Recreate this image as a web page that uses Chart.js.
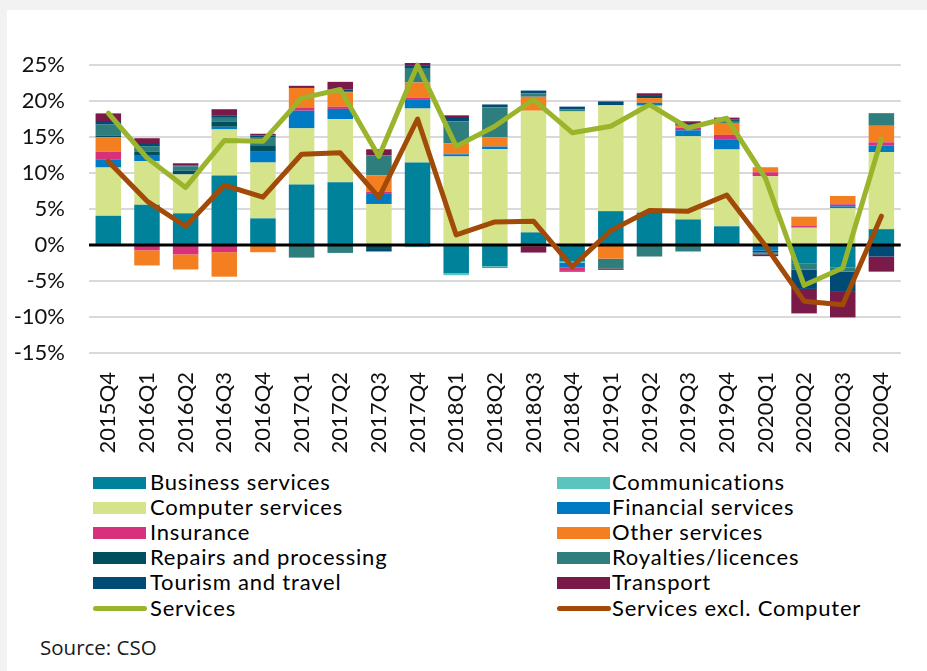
<!DOCTYPE html>
<html>
<head>
<meta charset="utf-8">
<script src="https://cdn.jsdelivr.net/npm/chart.js@4/dist/chart.umd.min.js"></script>
<style>
  html,body{margin:0;padding:0;background:#f2f2f2;width:927px;height:671px;overflow:hidden;}
  #panel{position:absolute;left:7px;top:10px;width:920px;height:661px;background:#fff;}
  #wrap{position:absolute;left:7px;top:10px;width:920px;height:453px;}
  .lg{position:absolute;font-family:Lato,"Noto Sans",sans-serif;font-size:22px;letter-spacing:0.8px;color:#000;line-height:25px;white-space:nowrap;}
  .sw{position:absolute;}
  #src{position:absolute;left:40px;top:637px;font-family:"Open Sans",sans-serif;font-size:20.5px;line-height:1;color:#1a1a1a;}
</style>
</head>
<body>
<div id="panel"></div>
<div id="wrap"><canvas id="c"></canvas></div>
<div id="legend"></div>
<div id="src">Source: CSO</div>
<script>
const categories = ["2015Q4","2016Q1","2016Q2","2016Q3","2016Q4","2017Q1","2017Q2","2017Q3","2017Q4","2018Q1","2018Q2","2018Q3","2018Q4","2019Q1","2019Q2","2019Q3","2019Q4","2020Q1","2020Q2","2020Q3","2020Q4"];

const business       = [4.06, 5.6, 4.4, 9.65, 3.7, 8.4, 8.7, 0, 11.45, -3.9, -2.95, 1.75, -2.3, 4.7, 4.5, 3.55, 2.6, -0.15, -2.6, -3.1, 2.2];
const communications = [0, 0, 0, 0, 0, 0, 0, 0, -0.3, -0.3, -0.15, 0, -0.15, 0, 0, 0, 0, 0.15, 0.2, 0, 0];
const computer       = [6.7, 6.05, 5.4, 6.4, 7.75, 7.8, 8.8, 5.7, 7.5, 12.3, 13.3, 16.9, 18.55, 14.7, 14.85, 11.55, 10.66, 9.4, 2.2, 5.1, 10.7];
const financial      = [1.15, 0.74, 0, 0.37, 1.5, 2.45, 1.4, 1.5, 1.3, 0.3, 0.37, -0.15, -0.7, 0, 0.4, 0.83, 1.43, -0.65, 0, 0.28, 0.9];
const insurance      = [1.06, -0.74, -1.3, -1.0, 0, 0.46, 0.3, 0.2, 0.23, 0.1, 0, -0.1, -0.45, 0, 0, 0.37, 0.6, 0.55, 0.23, 0.28, 0.46];
const otherServices  = [2.0, -2.1, -2.1, -3.4, -1.0, 2.7, 2.0, 2.26, 2.1, 1.43, 1.3, 1.94, 0, -1.9, 0.65, 0.28, 1.66, 0.7, 1.3, 1.15, 2.3];
const repairs        = [0.25, 0.6, 0.55, 0.74, 0.9, 0, 0.1, -0.55, 0, 0, 0, 0, 0, 0, 0.3, 0.2, 0, -0.2, 0, 0, 0];
const royalties      = [1.5, 0.74, 0.55, 0.5, 1.15, -1.75, -1.1, 2.8, 2.0, 3.05, 4.15, 0.46, 0.3, -1.35, -1.6, -0.9, 0.28, -0.2, -0.8, -0.6, 1.75];
const tourism        = [0.5, 0.3, 0.15, 0.37, 0.2, 0, 0.3, -0.35, 0.3, 0.6, 0.4, 0.4, 0.37, 0.55, 0, 0.17, 0.23, -0.1, -2.7, -2.7, -1.6];
const transport      = [1.06, 0.8, 0.3, 0.83, 0.25, 0.3, 1.06, 0.83, 0.4, 0.23, -0.1, -0.8, -0.1, -0.2, 0.37, 0.23, 0.23, -0.25, -3.4, -3.65, -2.1];
const services       = [18.3, 12.1, 8.0, 14.5, 14.4, 20.4, 21.6, 12.3, 25.0, 13.7, 16.5, 20.2, 15.6, 16.5, 19.5, 16.25, 17.6, 9.3, -5.6, -3.2, 14.7];
const servicesExclComputer = [11.6, 6.1, 2.6, 8.3, 6.65, 12.6, 12.8, 6.6, 17.5, 1.4, 3.2, 3.3, -3.0, 2.0, 4.8, 4.7, 6.95, -0.1, -7.8, -8.3, 4.0];

const yTicks = [-15, -10, -5, 0, 5, 10, 15, 20, 25];

const barSeries = [
  ["Business services", business, "#00829B"],
  ["Communications", communications, "#5BC4BF"],
  ["Computer services", computer, "#D5E38B"],
  ["Financial services", financial, "#007AC2"],
  ["Insurance", insurance, "#D6317A"],
  ["Other services", otherServices, "#F47F21"],
  ["Repairs and processing", repairs, "#004F5E"],
  ["Royalties/licences", royalties, "#2E7E7D"],
  ["Tourism and travel", tourism, "#004B75"],
  ["Transport", transport, "#7A1A48"]
];
const lineSeries = [
  ["Services", services, "#9AB52B", "s1"],
  ["Services excl. Computer", servicesExclComputer, "#A24A08", "s2"]
];

const datasets = barSeries.map(s => ({
  type: 'bar', label: s[0], data: s[1], backgroundColor: s[2],
  borderWidth: 0, order: 1, stack: 'bars', clip: false,
  barPercentage: 0.66, categoryPercentage: 1
}));
lineSeries.forEach(s => datasets.push({
  type: 'line', label: s[0], data: s[1], borderColor: s[2], backgroundColor: s[2],
  borderWidth: 5, pointRadius: 0, tension: 0, order: 0, stack: s[3], clip: false,
  borderCapStyle: 'round', borderJoinStyle: 'round'
}));

const zeroLine = {
  id: 'zeroLine',
  beforeDatasetDraw(chart, args) {
    if (args.index !== datasets.length - 1) return;
    const y = chart.scales.y.getPixelForValue(0);
    const ctx = chart.ctx;
    ctx.save();
    ctx.strokeStyle = '#000';
    ctx.lineWidth = 3;
    ctx.beginPath();
    ctx.moveTo(chart.chartArea.left, y);
    ctx.lineTo(chart.chartArea.right, y);
    ctx.stroke();
    ctx.restore();
  }
};

const font = {family: 'Lato, "Noto Sans", sans-serif', size: 22};

const chart = new Chart(document.getElementById('c'), {
  data: {labels: categories, datasets},
  plugins: [zeroLine],
  options: {
    responsive: true, maintainAspectRatio: false, animation: false,
    layout: {padding: {top: 55, right: 9, left: 0, bottom: 0}},
    plugins: {legend: {display: false}, tooltip: {enabled: false}},
    scales: {
      x: {
        stacked: true,
        grid: {display: false, drawTicks: false},
        border: {display: false},
        ticks: {font, color: '#111', maxRotation: 90, minRotation: 90, autoSkip: false, padding: 19},
        afterFit(s) { s.height = 110; }
      },
      y: {
        stacked: true, min: -15, max: 25,
        afterBuildTicks(s) { s.ticks = yTicks.map(v => ({value: v})); },
        grid: {color: c => c.tick && c.tick.value === 0 ? 'rgba(0,0,0,0)' : '#d9d9d9', lineWidth: 2, drawTicks: false},
        border: {display: false},
        ticks: {font, color: '#111', padding: 24, callback: v => v + '%'},
        afterFit(s) { s.width = 82; }
      }
    }
  }
});

// legend built from the chart datasets
const lg = document.getElementById('legend');
chart.data.datasets.forEach((ds, i) => {
  const col = i % 2, row = Math.floor(i / 2);
  const cy = 483 + row * 25.1;
  const boxX = col === 0 ? 93 : 557;
  const txtX = col === 0 ? 150 : 612;
  const sw = document.createElement('div');
  sw.className = 'sw';
  if (ds.type === 'line') {
    sw.style.cssText = `left:${boxX}px;top:${cy - 2.5}px;width:54px;height:5px;border-radius:3px;background:${ds.borderColor};`;
  } else {
    sw.style.cssText = `left:${boxX}px;top:${cy - 6}px;width:53px;height:12px;background:${ds.backgroundColor};`;
  }
  lg.appendChild(sw);
  const t = document.createElement('div');
  t.className = 'lg';
  t.style.left = txtX + 'px';
  t.style.top = (cy - 14) + 'px';
  t.textContent = ds.label;
  lg.appendChild(t);
});
</script>
</body>
</html>
